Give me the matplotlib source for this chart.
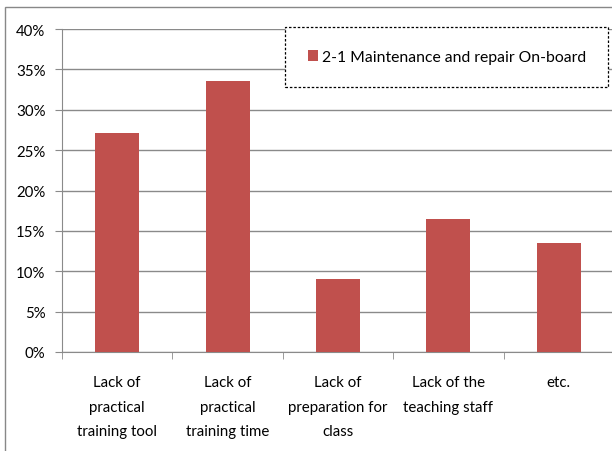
import matplotlib
matplotlib.use("Agg")
import matplotlib.pyplot as plt
from matplotlib.patches import Rectangle
from matplotlib.ticker import PercentFormatter

categories = ["Lack of\npractical\ntraining tool",
              "Lack of\npractical\ntraining time",
              "Lack of\npreparation for\nclass",
              "Lack of the\nteaching staff",
              "etc."]
values = [27.1, 33.6, 9.0, 16.5, 13.5]
series_name = "2-1 Maintenance and repair On-board"

plt.rcParams['font.family'] = ['Lato', 'DejaVu Sans']

fig = plt.figure(figsize=(6.12, 4.52), dpi=100)
ax = fig.add_axes([62/612, 1-353/452, 552/612, 323/452])

x = range(len(categories))
ax.bar(x, values, width=0.4, color="#C0504D", label=series_name, zorder=3)

ax.set_xlim(-0.5, len(categories)-0.5)
ax.set_ylim(0, 40)
ax.set_yticks(range(0, 41, 5))
ax.yaxis.set_major_formatter(PercentFormatter(decimals=0))
ax.grid(axis='y', color="#8a8a8a", linewidth=1, zorder=0)

ax.set_xticks(list(x))
ax.set_xticklabels(categories, fontsize=10.8, linespacing=1.98)
ax.set_xticks([i - 0.5 for i in range(len(categories)+1)], minor=True)
ax.tick_params(axis='x', which='major', length=0, pad=16.5)
ax.tick_params(axis='x', which='minor', length=5, color="#8a8a8a", direction='out')
ax.tick_params(axis='y', length=5, color="#8a8a8a", labelsize=10.8, pad=7)

for side in ['top', 'right']:
    ax.spines[side].set_visible(False)
for side in ['left', 'bottom']:
    ax.spines[side].set_color("#8a8a8a")

leg = ax.legend(loc='center', bbox_to_anchor=(0.404, 0.82, 0.585, 0.186), mode='expand',
                fontsize=11.3, fancybox=False, handlelength=0.65, handleheight=0.65,
                handletextpad=0.25, borderpad=1.45, borderaxespad=0)
frame = leg.get_frame()
frame.set_edgecolor('black')
frame.set_linestyle((0, (2, 1.5)))
frame.set_linewidth(0.9)
frame.set_alpha(1)

# outer chart border (cut off on the right and bottom)
fig.patches.append(Rectangle((5/612, -0.1), 1.2, 1.1-8/452, transform=fig.transFigure,
                             fill=False, edgecolor="#888888", linewidth=1))

fig.savefig("out.png", dpi=100)
